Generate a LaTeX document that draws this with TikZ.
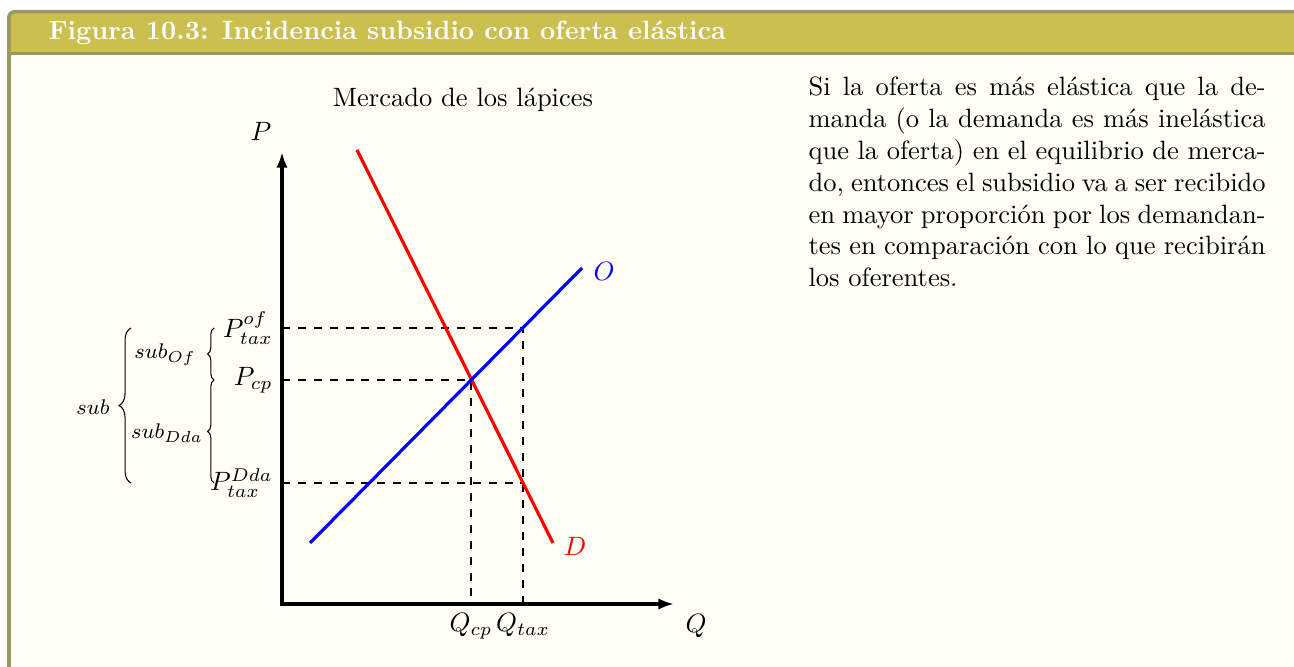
\documentclass[tikz,border=0pt]{standalone}
\usetikzlibrary{arrows.meta,decorations.pathreplacing}
\definecolor{frameC}{RGB}{154,150,96}
\definecolor{titleC}{RGB}{203,191,80}
\definecolor{backC}{RGB}{255,255,245}
\newlength{\parw}
\setlength{\parw}{172.5pt}
\newcommand{\jline}[1]{\makebox[\parw][s]{#1}}
\begin{document}
\begin{tikzpicture}[x=0.3774pt,y=-0.3774pt,
  axisline/.style={line width=1.2pt,{Latex[length=5.9pt,width=4.3pt]}-{Latex[length=5.9pt,width=4.3pt]}},
  curveD/.style={red,line width=1.2pt},
  curveO/.style={blue,line width=1.2pt},
  guide/.style={dashed,line width=0.4pt},
  bracestyle/.style={decorate,decoration={brace,amplitude=#1},line width=0.4pt},
  bracestyle/.default=2.4pt,
  sublbl/.style={font=\footnotesize,inner sep=0pt},
  parline/.style={anchor=base west,inner sep=0pt}]
\useasboundingbox (0,0) rectangle (1294,667);
\clip (0,0) rectangle (1294,667);
% box
\fill[white] (0,0) rectangle (1294,667);
\fill[frameC,rounded corners=2.85pt] (7,10) rectangle (1320,700);
\fill[titleC,rounded corners=1.5pt] (10.8,13.5) rectangle (1320,51.7);
\fill[titleC] (10.8,30) rectangle (1320,51.7);
\fill[backC] (10.8,55.2) rectangle (1320,700);
\node[anchor=west,inner sep=0pt,text=white,font=\bfseries] (title) at (48,32.5) {Figura 10.3: Incidencia subsidio con oferta elástica};
% graph
\node (mtitle) at (463,100) {Mercado de los lápices};
\coordinate (Ytip) at (282,152);
\coordinate (Orig) at (282,604);
\coordinate (Xtip) at (674,604);
\coordinate (Pof) at (282,328);
\coordinate (Pcp) at (282,380);
\coordinate (Pdda) at (282,483);
\coordinate (E) at (471,380);
\coordinate (T) at (523,328);
\coordinate (Td) at (523,483);
\coordinate (Qcp) at (471,604);
\coordinate (Qtax) at (523,604);
\coordinate (Dtop) at (357,150);
\coordinate (Dbot) at (553,543);
\coordinate (Obot) at (310,543);
\coordinate (Otop) at (582,268);
\draw[guide] (Pof) -- (T) -- (Qtax);
\draw[guide] (Pcp) -- (E) -- (Qcp);
\draw[guide] (Pdda) -- (Td);
\draw[curveD] (Dtop) -- (Dbot);
\draw[curveO] (Obot) -- (Otop);
\draw[axisline] (Ytip) -- (Orig) -- (Xtip);
\node (lP) at (261,131) {$P$};
\node (lQ) at (696,626) {$Q$};
\node[red] (lD) at (575,546) {$D$};
\node[blue] (lO) at (604,271) {$O$};
\node[left] (lPof) at (Pof) {$P^{of}_{tax}$};
\node[left] (lPcp) at (Pcp) {$P_{cp}$};
\node[left] (lPdda) at (Pdda) {$P^{Dda}_{tax}$};
\node[below] (lQcp) at (Qcp) {$Q_{cp}$};
\node[below] (lQtax) at (Qtax) {$Q_{tax}$};
% braces
\coordinate (b1a) at (214,380);
\coordinate (b1b) at (214,328);
\coordinate (b2a) at (214,483);
\coordinate (b2b) at (214,380);
\coordinate (b3a) at (131,483);
\coordinate (b3b) at (131,328);
\draw[bracestyle] (b1a) -- (b1b);
\draw[bracestyle] (b2a) -- (b2b);
\draw[bracestyle=4.5pt] (b3a) -- (b3b);
\node[sublbl] (sOf) at (165,355) {$sub_{Of}$};
\node[sublbl] (sDda) at (167,433) {$sub_{Dda}$};
\node[sublbl] (sAll) at (93,407) {$sub$};
% paragraph
\node[parline] (p1) at (808,96) {\jline{Si la oferta es más elástica que la de-}};
\node[parline] (p2) at (808,127.8) {\jline{manda (o la demanda es más inelástica}};
\node[parline] (p3) at (808,159.6) {\jline{que la oferta) en el equilibrio de merca-}};
\node[parline] (p4) at (808,191.4) {\jline{do, entonces el subsidio va a ser recibido}};
\node[parline] (p5) at (808,223.2) {\jline{en mayor proporción por los demandan-}};
\node[parline] (p6) at (808,255) {\jline{tes en comparación con lo que recibirán}};
\node[parline] (p7) at (808,286.8) {los oferentes.};
\end{tikzpicture}
\end{document}
